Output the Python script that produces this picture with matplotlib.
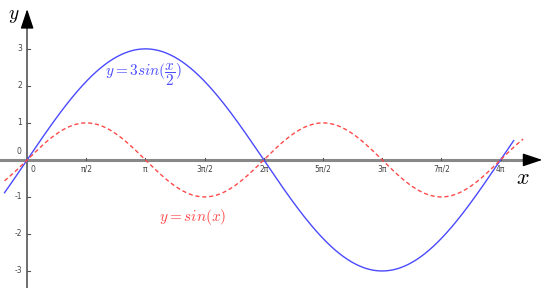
import numpy as np
import matplotlib
matplotlib.use("Agg")
from matplotlib import pyplot as plt

# tick positions and labels
x_ticks = [0, np.pi / 2, np.pi, 3 * np.pi / 2, 2 * np.pi, 5 * np.pi / 2, 3 * np.pi, 7 * np.pi / 2, 4 * np.pi]
x_labels = ["0", "π/2", "π", "3π/2", "2π", "5π/2", "3π", "7π/2", "4π"]
y_ticks = [-3, -2, -1, 1, 2, 3]
y_labels = ["-3", "-2", "-1", "1", "2", "3"]

# curve domains
x_start = -0.6
blue_end = 4 * np.pi + 0.35
red_end = 4 * np.pi + 0.6

blue = "#4a4aff"
red = "#ff4a4a"

plt.rcParams["mathtext.fontset"] = "cm"

fig = plt.figure(figsize=(5.47, 2.88), dpi=100)
ax = fig.add_axes([0, 0, 1, 1])
ax.set_xlim(-0.72, 13.8)
ax.set_ylim(-3.46, 4.32)
ax.axis("off")

# axes lines
ax.plot([-0.72, 13.3], [0, 0], color="#888888", lw=2.2, zorder=1)
ax.plot([0, 0], [-3.46, 3.8], color="#555555", lw=1.2, zorder=1)
ax.annotate("", xy=(13.75, 0), xytext=(13.1, 0),
            arrowprops=dict(arrowstyle="-|>,head_length=1.2,head_width=0.4", color="black", lw=1))
ax.annotate("", xy=(0, 4.15), xytext=(0, 3.5),
            arrowprops=dict(arrowstyle="-|>,head_length=1.2,head_width=0.4", color="black", lw=1))

# ticks
for t, lab in zip(x_ticks, x_labels):
    ax.plot([t, t], [0, 0.06], color="#555555", lw=0.8, zorder=2)
    dx = 0.15 if t == 0 else 0
    ax.text(t + dx, -0.25, lab, fontsize=5.5, color="#444444", ha="center", va="center")
for t, lab in zip(y_ticks, y_labels):
    ax.plot([0, 0.07], [t, t], color="#555555", lw=0.8, zorder=2)
    ax.text(-0.14, t, lab, fontsize=5.5, color="#444444", ha="right", va="center")
ax.text(-0.14, 0.22, "0", fontsize=5.5, color="#444444", ha="right", va="center")

# curves
xb = np.linspace(x_start, blue_end, 500)
xr = np.linspace(x_start, red_end, 500)
ax.plot(xb, 3 * np.sin(xb / 2), color=blue, lw=1, zorder=3)
ax.plot(xr, np.sin(xr), color=red, lw=1, ls=(0, (3, 2)), zorder=3)

# labels
ax.text(-0.35, 3.9, "$y$", fontsize=14, ha="center", va="center")
ax.text(13.15, -0.5, "$x$", fontsize=16, ha="center", va="center")
ax.text(3.1, 2.3, r"$y = 3sin(\dfrac{x}{2})$", fontsize=11, color=blue, ha="center", va="center")
ax.text(4.4, -1.55, r"$y = sin(x)$", fontsize=11, color=red, ha="center", va="center")

fig.savefig("out.png", dpi=100)
